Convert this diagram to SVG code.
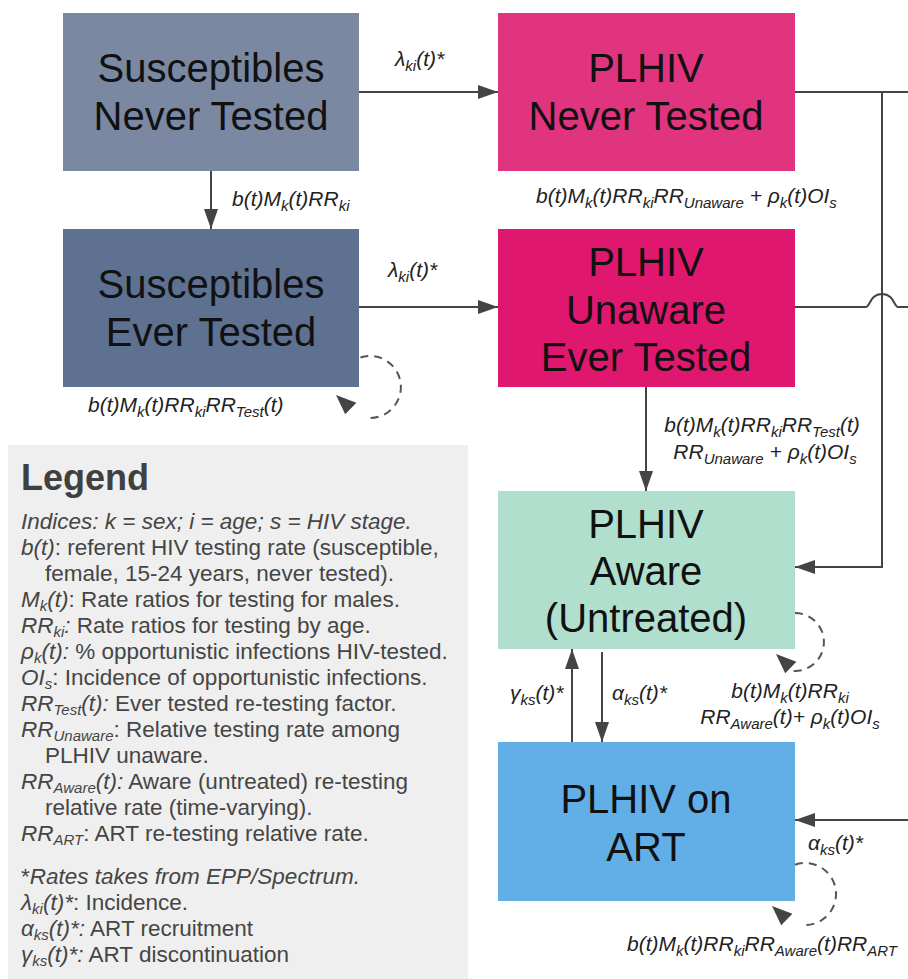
<svg xmlns="http://www.w3.org/2000/svg" width="908" height="979" viewBox="0 0 908 979">
<style>
.box text{font-family:'Liberation Sans',Arial,sans-serif;font-size:40px;fill:#111;text-anchor:middle}
.lbl{font-family:'Liberation Sans',Arial,sans-serif;font-style:italic;font-size:21px;fill:#222}
.s{font-size:15px}
.conn path{stroke:#444;stroke-width:2;fill:none}
.conn .dash{stroke:#555;stroke-width:2;fill:none;stroke-dasharray:8 6}
.ah{fill:#444}
.leg{font-family:'Liberation Sans',Arial,sans-serif;font-size:22.5px;fill:#454545}
.i{font-style:italic}
.ls{font-size:15px}
</style>
<defs>
<marker id="arr" viewBox="0 0 20 14" refX="20" refY="7" markerWidth="20" markerHeight="14" markerUnits="userSpaceOnUse" orient="auto">
<path d="M0,0 L20,7 L0,14 z" fill="#444"/>
</marker>
</defs>
<rect x="0" y="0" width="908" height="979" fill="#fff"/>

<g id="legend">
<rect x="8" y="445" width="460" height="540" fill="#efefef"/>
<text x="21" y="490" style="font-family:'Liberation Sans',Arial,sans-serif;font-size:36px;font-weight:bold;fill:#404040">Legend</text>
<text class="leg" x="21" y="529"><tspan class="i">Indices: k = sex; i = age; s = HIV stage.</tspan></text>
<text class="leg" x="21" y="555"><tspan class="i">b(t)</tspan>: referent HIV testing rate (susceptible,</text>
<text class="leg" x="45" y="581">female, 15-24 years, never tested).</text>
<text class="leg" x="21" y="607"><tspan class="i">M</tspan><tspan class="i ls" dy="4">k</tspan><tspan class="i" dy="-4">(t)</tspan>: Rate ratios for testing for males.</text>
<text class="leg" x="21" y="633"><tspan class="i">RR</tspan><tspan class="i ls" dy="4">ki</tspan><tspan class="i" dy="-4">:</tspan> Rate ratios for testing by age.</text>
<text class="leg" x="21" y="659"><tspan class="i">ρ</tspan><tspan class="i ls" dy="4">k</tspan><tspan class="i" dy="-4">(t):</tspan> % opportunistic infections HIV-tested.</text>
<text class="leg" x="21" y="685"><tspan class="i">OI</tspan><tspan class="i ls" dy="4">s</tspan><tspan dy="-4">: Incidence of opportunistic infections.</tspan></text>
<text class="leg" x="21" y="711"><tspan class="i">RR</tspan><tspan class="i ls" dy="4">Test</tspan><tspan class="i" dy="-4">(t):</tspan> Ever tested re-testing factor.</text>
<text class="leg" x="21" y="737"><tspan class="i">RR</tspan><tspan class="i ls" dy="4">Unaware</tspan><tspan dy="-4">: Relative testing rate among</tspan></text>
<text class="leg" x="45" y="763">PLHIV unaware.</text>
<text class="leg" x="21" y="789"><tspan class="i">RR</tspan><tspan class="i ls" dy="4">Aware</tspan><tspan class="i" dy="-4">(t):</tspan> Aware (untreated) re-testing</text>
<text class="leg" x="45" y="815">relative rate (time-varying).</text>
<text class="leg" x="21" y="841"><tspan class="i">RR</tspan><tspan class="i ls" dy="4">ART</tspan><tspan dy="-4">: ART re-testing relative rate.</tspan></text>
<text class="leg" x="21" y="884">*<tspan class="i">Rates takes from EPP/Spectrum.</tspan></text>
<text class="leg" x="21" y="910"><tspan class="i">λ</tspan><tspan class="i ls" dy="4">ki</tspan><tspan class="i" dy="-4">(t)*</tspan>: Incidence.</text>
<text class="leg" x="21" y="936"><tspan class="i">α</tspan><tspan class="i ls" dy="4">ks</tspan><tspan class="i" dy="-4">(t)*:</tspan> ART recruitment</text>
<text class="leg" x="21" y="962"><tspan class="i">γ</tspan><tspan class="i ls" dy="4">ks</tspan><tspan class="i" dy="-4">(t)*:</tspan> ART discontinuation</text>
</g>

<g id="node-susc-never" class="box">
<rect x="63" y="13" width="296" height="158" fill="#7a88a2"/>
<text x="211" y="82">Susceptibles</text>
<text x="211" y="130">Never Tested</text>
</g>
<g id="node-susc-ever" class="box">
<rect x="63" y="229" width="296" height="158" fill="#5f7190"/>
<text x="211" y="298">Susceptibles</text>
<text x="211" y="346">Ever Tested</text>
</g>
<g id="node-plhiv-never" class="box">
<rect x="498" y="13" width="297" height="158" fill="#e0347f"/>
<text x="646" y="82">PLHIV</text>
<text x="646" y="130">Never Tested</text>
</g>
<g id="node-plhiv-unaware" class="box">
<rect x="498" y="229" width="297" height="158" fill="#e0176f"/>
<text x="646" y="276">PLHIV</text>
<text x="646" y="324">Unaware</text>
<text x="646" y="371">Ever Tested</text>
</g>
<g id="node-plhiv-aware" class="box">
<rect x="498" y="491" width="297" height="158" fill="#b0dfcd"/>
<text x="646" y="538">PLHIV</text>
<text x="646" y="585">Aware</text>
<text x="646" y="632">(Untreated)</text>
</g>
<g id="node-plhiv-art" class="box">
<rect x="498" y="742" width="297" height="159" fill="#62aee6"/>
<text x="646" y="813">PLHIV on</text>
<text x="646" y="861">ART</text>
</g>

<g id="connectors" class="conn">
<path d="M359,92 H498" marker-end="url(#arr)"/>
<path d="M359,307 H498" marker-end="url(#arr)"/>
<path d="M211,171 V229" marker-end="url(#arr)"/>
<path d="M795,92 H908"/>
<path d="M882,92 V567 H795" marker-end="url(#arr)"/>
<path d="M795,307 H866 c4,0 4,-13 16,-13 c12,0 12,13 16,13 H908"/>
<path d="M646,387 V491" marker-end="url(#arr)"/>
<path d="M602,652 V742" marker-end="url(#arr)"/>
<path d="M572,742 V649" marker-end="url(#arr)"/>
<path d="M908,820 H795" marker-end="url(#arr)"/>
<path class="dash" d="M360.4,357.5 A31,31 0 1 1 367.3,417.9"/>
<polygon class="ah" points="336,395 356.4,402.8 345.2,414.2"/>
<path class="dash" d="M795,613 A29,29 0 1 1 792.5,670.9"/>
<polygon class="ah" points="776,654 796.4,661.8 785.2,673.2"/>
<path class="dash" d="M795,864.7 A31,31 0 1 1 802.3,924.9"/>
<polygon class="ah" points="772,906 792.4,913.8 781.2,925.2"/>
</g>

<g id="labels">
<text class="lbl" x="395" y="66">λ<tspan class="s" dy="5">ki</tspan><tspan dy="-5">(t)*</tspan></text>
<text class="lbl" x="388" y="277">λ<tspan class="s" dy="5">ki</tspan><tspan dy="-5">(t)*</tspan></text>
<text class="lbl" x="232" y="206">b(t)M<tspan class="s" dy="5">k</tspan><tspan dy="-5">(t)RR</tspan><tspan class="s" dy="5">ki</tspan></text>
<text class="lbl" x="88" y="412">b(t)M<tspan class="s" dy="5">k</tspan><tspan dy="-5">(t)RR</tspan><tspan class="s" dy="5">ki</tspan><tspan dy="-5">RR</tspan><tspan class="s" dy="5">Test</tspan><tspan dy="-5">(t)</tspan></text>
<text class="lbl" x="536" y="203">b(t)M<tspan class="s" dy="5">k</tspan><tspan dy="-5">(t)RR</tspan><tspan class="s" dy="5">ki</tspan><tspan dy="-5">RR</tspan><tspan class="s" dy="5">Unaware</tspan><tspan dy="-5"> + ρ</tspan><tspan class="s" dy="5">k</tspan><tspan dy="-5">(t)OI</tspan><tspan class="s" dy="5">s</tspan></text>
<text class="lbl" x="762" y="432" text-anchor="middle">b(t)M<tspan class="s" dy="5">k</tspan><tspan dy="-5">(t)RR</tspan><tspan class="s" dy="5">ki</tspan><tspan dy="-5">RR</tspan><tspan class="s" dy="5">Test</tspan><tspan dy="-5">(t)</tspan></text>
<text class="lbl" x="765" y="459" text-anchor="middle">RR<tspan class="s" dy="5">Unaware</tspan><tspan dy="-5"> + ρ</tspan><tspan class="s" dy="5">k</tspan><tspan dy="-5">(t)OI</tspan><tspan class="s" dy="5">s</tspan></text>
<text class="lbl" x="510" y="700">γ<tspan class="s" dy="5">ks</tspan><tspan dy="-5">(t)*</tspan></text>
<text class="lbl" x="612" y="700">α<tspan class="s" dy="5">ks</tspan><tspan dy="-5">(t)*</tspan></text>
<text class="lbl" x="790" y="698" text-anchor="middle">b(t)M<tspan class="s" dy="5">k</tspan><tspan dy="-5">(t)RR</tspan><tspan class="s" dy="5">ki</tspan></text>
<text class="lbl" x="790" y="724" text-anchor="middle">RR<tspan class="s" dy="5">Aware</tspan><tspan dy="-5">(t)+ ρ</tspan><tspan class="s" dy="5">k</tspan><tspan dy="-5">(t)OI</tspan><tspan class="s" dy="5">s</tspan></text>
<text class="lbl" x="808" y="850">α<tspan class="s" dy="5">ks</tspan><tspan dy="-5">(t)*</tspan></text>
<text class="lbl" x="627" y="951">b(t)M<tspan class="s" dy="5">k</tspan><tspan dy="-5">(t)RR</tspan><tspan class="s" dy="5">ki</tspan><tspan dy="-5">RR</tspan><tspan class="s" dy="5">Aware</tspan><tspan dy="-5">(t)RR</tspan><tspan class="s" dy="5">ART</tspan></text>
</g>
</svg>
